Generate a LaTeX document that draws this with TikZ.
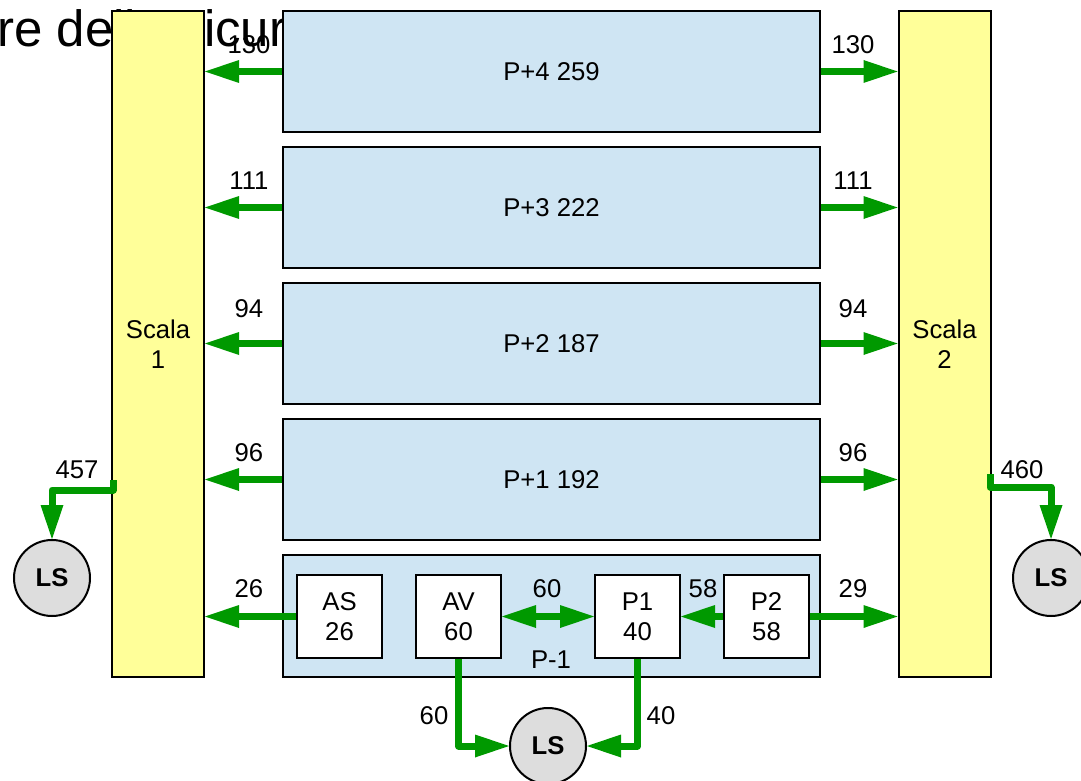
\documentclass[tikz,border=0pt]{standalone}
\usepackage{fontspec}
\setmainfont{Liberation Sans}
\usetikzlibrary{arrows.meta}
\definecolor{scalaY}{HTML}{FFFF99}
\definecolor{floorB}{HTML}{CFE5F3}
\definecolor{flowG}{HTML}{009900}
\definecolor{lsG}{HTML}{DDDDDD}
\begin{document}
\begin{tikzpicture}[x=1pt,y=-1pt,
  font=\fontsize{25.7}{30}\selectfont,
  scala/.style={draw, line width=2pt, fill=scalaY, minimum width=92pt, minimum height=666pt, inner sep=0pt, align=center},
  floorbox/.style={draw, line width=2pt, fill=floorB, minimum width=537pt, minimum height=121pt, inner sep=0pt},
  room/.style={draw, line width=2pt, fill=white, minimum width=85pt, minimum height=83pt, inner sep=0pt, align=center},
  lsnode/.style={circle, draw, line width=2pt, fill=lsG, minimum size=76pt, inner sep=0pt, font=\bfseries\fontsize{25.7}{30}\selectfont},
  lab/.style={inner sep=0pt},
  tip/.tip={Triangle[length=34pt,width=23pt,line width=0pt]},
  flow/.style={draw=flowG, line width=7pt, line join=round, -tip},
  flowboth/.style={draw=flowG, line width=7pt, tip-tip},
  flowline/.style={draw=flowG, line width=7pt, line join=round}
]
\useasboundingbox (0,0) rectangle (1081,781);
% background title, partly hidden
\node[anchor=base west, inner sep=0pt, font=\fontsize{51}{60}\selectfont] (title) at (-3,47) {re della sicurezza};

% stairs
\node[scala] (s1) at (158,344) {Scala\\1};
\node[scala] (s2) at (944.5,344) {Scala\\2};

% floors
\node[floorbox] (p4) at (551.5,71.5) {P+4 259};
\node[floorbox] (p3) at (551.5,207.5) {P+3 222};
\node[floorbox] (p2) at (551.5,343.5) {P+2 187};
\node[floorbox] (p1) at (551.5,479.5) {P+1 192};
\node[floorbox, minimum height=122pt] (pm1) at (551.5,616) {};
\node[lab] (pm1lab) at (551,660) {P-1};

% rooms in P-1
\node[room] (as) at (339.5,616.5) {AS\\26};
\node[room] (av) at (458.5,616.5) {AV\\60};
\node[room] (r1) at (637.5,616.5) {P1\\40};
\node[room] (r2) at (766.5,616.5) {P2\\58};

% safe places
\node[lsnode] (ls1) at (52,578) {LS};
\node[lsnode] (ls2) at (1051,578) {LS};
\node[lsnode] (ls3) at (548,746) {LS};

% floor arrows
\foreach \f in {p4,p3,p2,p1}{
  \draw[flow] (\f.west) -- (\f.west -| s1.east);
  \draw[flow] (\f.east) -- (\f.east -| s2.west);
}
\draw[flow] (as.west) -- (as.west -| s1.east);
\draw[flow] (r2.east) -- (r2.east -| s2.west);
\draw[flowboth] (av.east) -- (r1.west);
\draw[flow] (r2.west) -- (r1.east);
\draw[flow] (av.south) |- (ls3.west);
\draw[flow] (r1.south) |- (ls3.east);

% stairs to safe places
\coordinate (o1) at (113,480);
\coordinate (k1) at (113,490);
\draw[flow] (o1) -- (k1) -| (ls1.north);
\coordinate (o2) at (990,474);
\coordinate (k2) at (990,487);
\draw[flow] (o2) -- (k2) -| (ls2.north);

% labels
\node[lab] (l4a) at (249,45) {130};
\node[lab] (l4b) at (853,45) {130};
\node[lab] (l3a) at (249,181) {111};
\node[lab] (l3b) at (853,181) {111};
\node[lab] (l2a) at (249,309) {94};
\node[lab] (l2b) at (853,309) {94};
\node[lab] (l1a) at (249,453) {96};
\node[lab] (l1b) at (853,453) {96};
\node[lab] (l0a) at (249,589) {26};
\node[lab] (l0b) at (853,589) {29};
\node[lab] (lav) at (547,589) {60};
\node[lab] (lp2) at (703,589) {58};
\node[lab] (lbav) at (434,716) {60};
\node[lab] (lbp1) at (661,716) {40};
\node[lab] (ls1lab) at (77,470) {457};
\node[lab] (ls2lab) at (1022,470) {460};
\end{tikzpicture}
\end{document}
